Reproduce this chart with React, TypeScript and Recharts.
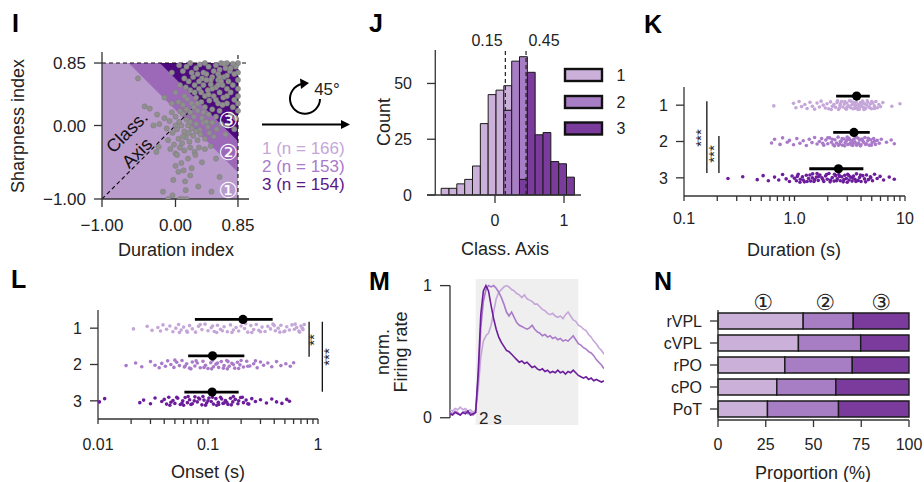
import React from 'react';
import {
  ComposedChart,
  ScatterChart,
  BarChart,
  Scatter,
  Line,
  Bar,
  Area,
  XAxis,
  YAxis,
  ReferenceLine,
  ReferenceArea,
} from 'recharts';

const FONT = '"Liberation Sans", Arial, Helvetica, sans-serif';
const INK = '#222';
const AXIS = { stroke: '#333', strokeWidth: 1.3 };
const TICK = { fontSize: 16, fill: INK };

// class colours (histogram / proportion bars)
const C1 = '#cbb0da';
const C2 = '#a77dc3';
const C3 = '#7b3b9d';
// strip plot colours
const S1 = '#c5a6d9';
const S2 = '#a97ac9';
const S3 = '#6c1d9c';
// background of the index plane
const BG1 = '#b99bcc';
const BG2 = '#9b69b8';
const BG3 = '#4d0a80';

// ---------- I : duration vs sharpness index ----------
const thresholds = [0.15, 0.45];
const indexTicks = [-1, 0, 0.85];
const indexMax = 0.85;
const iPoints = [
  [0.85, 0.85], [0.82, 0.8], [0.78, 0.84], [0.7, 0.85], [0.62, 0.85], [0.55, 0.82], [0.85, 0.72], [0.85, 0.62],
  [0.8, 0.7], [0.74, 0.74], [0.68, 0.78], [0.6, 0.76], [0.52, 0.74], [0.45, 0.8], [0.4, 0.85], [0.33, 0.83],
  [0.28, 0.78], [0.2, 0.85], [0.15, 0.8], [0.1, 0.74], [0.05, 0.82], [-0.05, 0.72], [0.85, 0.5], [0.78, 0.55],
  [0.72, 0.6], [0.66, 0.66], [0.58, 0.62], [0.5, 0.66], [0.42, 0.7], [0.36, 0.64], [0.3, 0.7], [0.24, 0.66],
  [0.18, 0.6], [0.12, 0.64], [0.85, 0.4], [0.8, 0.35], [0.75, 0.45], [0.7, 0.5], [0.64, 0.55], [0.6, 0.45],
  [0.55, 0.52], [0.48, 0.56], [0.44, 0.48], [0.38, 0.55], [0.32, 0.5], [0.26, 0.55], [0.2, 0.48], [0.14, 0.52],
  [0.06, 0.55], [0.0, 0.45], [0.85, 0.2], [0.82, 0.1], [0.78, 0.25], [0.7, 0.3], [0.65, 0.38], [0.58, 0.3],
  [0.52, 0.4], [0.46, 0.34], [0.4, 0.4], [0.35, 0.32], [0.28, 0.38], [0.22, 0.3], [0.16, 0.36], [0.1, 0.28],
  [0.04, 0.32], [-0.05, 0.3], [-0.15, 0.38], [0.6, 0.2], [0.55, 0.12], [0.5, 0.22], [0.45, 0.15], [0.4, 0.25],
  [0.36, 0.1], [0.3, 0.2], [0.25, 0.12], [0.2, 0.18], [0.15, 0.08], [0.1, 0.16], [0.05, 0.05], [0.0, 0.12],
  [-0.08, 0.06], [-0.15, 0.1], [-0.22, 0.02], [0.62, 0.02], [0.56, -0.05], [0.5, 0.04], [0.44, -0.02], [0.38, 0.04],
  [0.33, -0.06], [0.28, 0.02], [0.22, -0.04], [0.17, 0.0], [0.12, -0.08], [0.08, 0.0], [0.02, -0.05], [-0.04, -0.1],
  [-0.12, -0.04], [0.52, -0.15], [0.46, -0.1], [0.4, -0.18], [0.34, -0.12], [0.3, -0.2], [0.24, -0.14], [0.19, -0.22],
  [0.14, -0.16], [0.09, -0.24], [0.04, -0.18], [-0.02, -0.26], [-0.1, -0.2], [0.48, -0.28], [0.4, -0.32], [0.32, -0.3],
  [0.26, -0.36], [0.2, -0.3], [0.12, -0.34], [0.06, -0.3], [0.0, -0.38], [-0.07, -0.32], [-0.26, -0.36], [-0.23, -0.29],
  [0.08, -0.51], [0.02, -0.4], [0.17, -0.45], [0.27, -0.4], [0.04, -0.63], [0.11, -0.61], [0.22, -0.58], [-0.03, -0.74],
  [0.13, -0.76], [0.31, -0.83], [0.49, -0.9], [-0.04, -0.95], [-0.17, -0.9], [-0.1, -1.0], [0.06, -1.0], [0.1, -1.0],
  [0.15, -1.0], [0.36, -0.5], [0.55, -0.45], [0.6, -0.7], [0.2, -0.68], [0.0, -0.55], [0.14, -0.88], [-0.51, 0.64],
  [-0.42, 0.26], [-0.35, 0.23], [-0.3, 0.0], [-0.25, 0.15], [0.7, 0.0], [0.75, 0.15], [0.68, -0.12], [0.64, 0.28],
  [0.8, -0.05], [0.85, 0.3], [0.58, 0.7], [0.66, 0.84], [0.48, 0.62], [0.38, 0.72], [0.26, 0.45], [0.7, 0.68],
  [0.3, 0.3], [0.35, 0.45], [0.42, 0.05], [0.2, 0.05], [0.25, 0.25], [0.15, 0.22], [0.45, 0.42], [0.55, 0.35],
  [0.62, 0.6], [0.5, 0.5], [0.38, 0.18], [0.28, -0.08], [0.18, -0.1], [0.1, -0.15], [0.32, 0.6], [0.22, 0.72],
  [0.75, 0.78], [0.6, 0.66], [0.12, 0.4], [0.06, 0.2], [0.0, 0.0], [-0.05, 0.18], [0.42, 0.62], [0.58, 0.55],
  [0.7, 0.4],
];

// ---------- J : histogram along the classification axis ----------
const binEdges = [
  -0.78, -0.666, -0.553, -0.439, -0.326, -0.212, -0.099, 0.015, 0.128, 0.242,
  0.355, 0.469, 0.582, 0.696, 0.809, 0.923, 1.036, 1.15,
];
const countC1 = [3, 3, 5, 7, 13, 32, 45, 47, 11, 0, 0, 0, 0, 0, 0, 0, 0];
const countC2 = [0, 0, 0, 0, 0, 0, 0, 0, 38, 60, 55, 0, 0, 0, 0, 0, 0];
const countC3 = [0, 0, 0, 0, 0, 0, 0, 0, 0, 0, 7, 55, 27, 28, 15, 14, 8];
const countTicks = [0, 25, 50];
const axisTicks = [0, 1];

// ---------- K : duration strips ----------
const kTicks = [0.1, 0.2, 0.3, 0.4, 0.5, 0.6, 0.7, 0.8, 0.9, 1, 2, 3, 4, 5, 6, 7, 8, 9, 10];
const kMajor = [0.1, 1, 10];
const kDur1 = [
  [0.65, 0.02], [0.98, -0.05], [1.03, 0.07], [1.1, -0.1], [1.16, 0.04], [1.24, -0.02], [1.3, 0.09], [1.38, -0.08],
  [1.45, 0.03], [1.52, 0.11], [1.6, -0.06], [1.68, 0.05], [1.74, -0.11], [1.82, 0.0], [1.9, 0.08], [1.97, -0.04],
  [2.04, 0.1], [2.12, -0.09], [2.2, 0.03], [2.27, -0.02], [2.35, 0.06], [2.42, -0.07], [2.5, 0.12], [2.58, 0.01],
  [2.66, -0.1], [2.74, 0.05], [2.82, -0.03], [2.9, 0.09], [2.98, -0.06], [3.06, 0.02], [3.14, -0.12], [3.22, 0.07],
  [3.3, -0.01], [3.38, 0.1], [3.46, -0.05], [3.54, 0.04], [3.62, -0.09], [3.7, 0.08], [3.78, -0.02], [3.86, 0.11],
  [3.95, -0.07], [4.04, 0.03], [4.12, -0.11], [4.2, 0.06], [4.3, -0.04], [4.4, 0.09], [4.5, 0.0], [4.6, -0.08],
  [4.72, 0.05], [4.85, -0.03], [4.98, 0.1], [5.12, -0.06], [5.28, 0.02], [5.45, -0.1], [5.62, 0.07], [5.8, -0.02],
  [6.0, 0.04], [6.3, -0.07], [7.6, 0.03], [9.0, -0.04], [3.0, 0.05], [3.4, -0.08], [3.9, 0.02], [4.25, 0.12],
  [2.6, -0.04], [3.5, 0.09], [2.15, 0.12], [2.45, -0.12], [2.95, 0.11], [3.25, -0.11], [3.58, 0.0], [3.75, 0.12],
  [4.08, -0.05], [4.35, 0.1], [4.55, -0.12], [4.8, 0.07], [3.1, 0.03], [3.45, -0.03], [2.85, -0.1], [2.55, 0.08],
  [4.15, -0.09], [3.85, 0.05], [5.0, -0.1], [5.3, 0.09],
];
const kDur2 = [
  [0.62, 0.04], [0.66, -0.06], [0.74, 0.08], [0.78, -0.1], [0.86, 0.02], [0.9, -0.03], [0.98, 0.09], [1.05, -0.08],
  [1.12, 0.05], [1.2, -0.02], [1.28, 0.11], [1.36, -0.06], [1.44, 0.03], [1.52, -0.11], [1.6, 0.07], [1.68, 0.0],
  [1.76, -0.08], [1.84, 0.1], [1.92, -0.04], [2.0, 0.06], [2.08, -0.1], [2.16, 0.02], [2.24, 0.09], [2.32, -0.05],
  [2.4, 0.04], [2.48, -0.12], [2.56, 0.07], [2.64, -0.01], [2.72, 0.1], [2.8, -0.07], [2.88, 0.03], [2.96, -0.03],
  [3.04, 0.08], [3.12, -0.09], [3.2, 0.05], [3.28, -0.02], [3.36, 0.11], [3.44, -0.06], [3.52, 0.01], [3.6, 0.07],
  [3.7, -0.1], [3.8, 0.04], [3.9, -0.04], [4.0, 0.09], [4.1, -0.07], [4.22, 0.02], [4.34, -0.11], [4.46, 0.06],
  [4.6, -0.02], [4.75, 0.1], [4.9, -0.05], [5.05, 0.03], [5.2, -0.08], [5.4, 0.08], [5.6, -0.03], [5.85, 0.05],
  [6.1, -0.06], [6.8, 0.02], [7.5, -0.04], [8.0, 0.06], [2.3, 0.12], [3.0, -0.12], [3.65, 0.1], [2.7, -0.08],
  [2.2, -0.06], [2.5, 0.1], [2.85, 0.12], [3.15, -0.05], [3.4, 0.04], [3.55, -0.11], [3.75, 0.06], [3.95, 0.12],
  [4.15, -0.02], [4.4, 0.08], [4.65, -0.09], [2.6, 0.0], [3.25, 0.09], [3.85, -0.07], [2.0, -0.1], [1.8, 0.05],
  [4.95, 0.1], [5.3, -0.01],
];
const kDur3 = [
  [0.25, 0.02], [0.34, -0.03], [0.46, 0.05], [0.52, -0.06], [0.58, 0.08], [0.66, -0.02], [0.72, 0.06], [0.78, -0.09],
  [0.84, 0.03], [0.9, 0.1], [0.95, -0.05], [1.0, 0.01], [1.04, 0.08], [1.08, -0.1], [1.13, 0.04], [1.18, -0.03],
  [1.23, 0.11], [1.28, -0.07], [1.34, 0.02], [1.4, 0.09], [1.46, -0.11], [1.52, 0.05], [1.58, -0.02], [1.64, 0.07],
  [1.7, -0.08], [1.77, 0.0], [1.84, 0.1], [1.91, -0.05], [1.98, 0.04], [2.05, -0.12], [2.12, 0.06], [2.2, -0.01],
  [2.28, 0.09], [2.36, -0.06], [2.44, 0.03], [2.52, -0.09], [2.6, 0.08], [2.68, -0.03], [2.76, 0.11], [2.85, -0.07],
  [2.94, 0.02], [3.03, -0.1], [3.12, 0.06], [3.22, -0.02], [3.32, 0.09], [3.42, -0.05], [3.52, 0.04], [3.64, -0.11],
  [3.76, 0.07], [3.88, -0.01], [4.0, 0.1], [4.15, -0.06], [4.3, 0.03], [4.48, -0.08], [4.66, 0.05], [4.86, -0.03],
  [5.08, 0.08], [5.3, -0.1], [5.6, 0.02], [5.95, -0.04], [6.4, 0.06], [7.2, -0.02], [8.0, 0.04], [1.12, 0.12],
  [1.45, 0.0], [1.6, -0.12], [2.3, -0.1], [3.0, 0.12], [1.06, -0.04], [1.2, 0.06], [1.3, 0.1], [1.38, -0.08],
  [1.5, 0.1], [1.66, -0.04], [1.8, 0.04], [1.95, -0.09], [2.1, 0.11], [2.4, 0.08], [2.56, -0.04], [2.8, 0.05],
  [3.1, -0.06], [3.35, 0.0], [3.6, 0.1], [3.95, -0.08], [4.4, 0.11], [4.9, 0.0],
];
const kMean = [3.65, 3.45, 2.5];
const kLow = [2.38, 2.24, 1.36];
const kHigh = [4.8, 4.8, 4.2];

// ---------- L : onset strips ----------
const lTicks = [0.01, 0.02, 0.03, 0.04, 0.05, 0.06, 0.07, 0.08, 0.09, 0.1, 0.2, 0.3, 0.4, 0.5, 0.6, 0.7, 0.8, 0.9, 1];
const lMajor = [0.01, 0.1, 1];
const lOn1 = [
  [0.021, 0.02], [0.028, -0.05], [0.031, 0.06], [0.035, -0.02], [0.037, 0.08], [0.039, -0.09], [0.042, 0.03],
  [0.045, -0.06], [0.048, 0.1], [0.051, 0.0], [0.054, -0.1], [0.057, 0.05], [0.06, -0.03], [0.064, 0.08],
  [0.068, -0.07], [0.072, 0.02], [0.077, 0.11], [0.082, -0.05], [0.088, 0.04], [0.094, -0.11], [0.1, 0.07],
  [0.107, -0.01], [0.114, 0.09], [0.122, -0.08], [0.13, 0.03], [0.14, -0.04], [0.15, 0.1], [0.16, -0.09],
  [0.17, 0.05], [0.18, -0.02], [0.19, 0.08], [0.2, -0.06], [0.215, 0.01], [0.23, 0.11], [0.245, -0.07],
  [0.26, 0.04], [0.275, -0.1], [0.29, 0.06], [0.31, -0.03], [0.33, 0.09], [0.35, -0.05], [0.37, 0.02],
  [0.39, -0.11], [0.41, 0.07], [0.435, 0.0], [0.46, -0.08], [0.49, 0.1], [0.52, -0.04], [0.55, 0.05],
  [0.58, -0.09], [0.61, 0.03], [0.64, -0.02], [0.67, 0.08], [0.7, -0.06], [0.73, 0.04], [0.75, -0.1],
  [0.055, 0.12], [0.12, 0.12], [0.25, 0.12], [0.45, 0.11], [0.065, 0.11], [0.085, -0.1], [0.11, -0.06],
  [0.135, 0.07], [0.165, 0.12], [0.22, -0.12], [0.3, 0.1], [0.4, -0.07], [0.5, 0.08], [0.62, -0.11],
  [0.68, 0.11], [0.72, 0.0],
];
const lOn2 = [
  [0.018, 0.03], [0.022, -0.04], [0.025, 0.06], [0.03, -0.08], [0.033, 0.02], [0.036, 0.09], [0.038, -0.03],
  [0.041, 0.05], [0.043, -0.1], [0.046, 0.0], [0.049, 0.08], [0.052, -0.06], [0.055, 0.03], [0.058, -0.11],
  [0.061, 0.07], [0.064, -0.02], [0.068, 0.1], [0.072, -0.07], [0.076, 0.04], [0.08, -0.04], [0.085, 0.09],
  [0.09, -0.09], [0.095, 0.02], [0.1, 0.11], [0.106, -0.05], [0.112, 0.06], [0.118, -0.01], [0.125, 0.08],
  [0.132, -0.08], [0.14, 0.03], [0.148, -0.11], [0.156, 0.05], [0.165, -0.03], [0.175, 0.1], [0.185, -0.06],
  [0.195, 0.01], [0.21, 0.07], [0.225, -0.09], [0.24, 0.04], [0.26, -0.02], [0.28, 0.09], [0.3, -0.07],
  [0.32, 0.02], [0.35, -0.04], [0.38, 0.06], [0.42, -0.08], [0.46, 0.03], [0.51, -0.02], [0.56, 0.05],
  [0.6, -0.05], [0.07, 0.12], [0.11, -0.12], [0.15, 0.12], [0.2, -0.11], [0.05, -0.12], [0.062, 0.04],
  [0.078, -0.1], [0.092, 0.08], [0.108, 0.12], [0.122, -0.04], [0.138, 0.1], [0.152, -0.08], [0.17, 0.0],
  [0.19, 0.11], [0.23, 0.05], [0.27, -0.1],
];
const lOn3 = [
  [0.0103, 0.03], [0.0115, -0.06], [0.024, 0.05], [0.026, -0.02], [0.03, 0.08], [0.033, -0.08], [0.038, 0.02],
  [0.04, -0.04], [0.042, 0.09], [0.044, -0.1], [0.046, 0.04], [0.048, -0.01], [0.05, 0.07], [0.053, -0.07],
  [0.056, 0.1], [0.059, 0.0], [0.062, -0.09], [0.065, 0.05], [0.068, -0.03], [0.072, 0.08], [0.076, -0.11],
  [0.08, 0.03], [0.084, -0.05], [0.088, 0.11], [0.092, -0.02], [0.097, 0.06], [0.102, -0.08], [0.107, 0.02],
  [0.112, 0.09], [0.118, -0.06], [0.124, 0.04], [0.13, -0.1], [0.137, 0.07], [0.144, -0.01], [0.152, 0.1],
  [0.16, -0.07], [0.168, 0.03], [0.177, -0.04], [0.187, 0.08], [0.198, -0.09], [0.21, 0.05], [0.222, -0.02],
  [0.235, 0.09], [0.25, -0.06], [0.27, 0.02], [0.3, -0.03], [0.34, 0.06], [0.38, -0.05], [0.42, 0.03],
  [0.47, 0.07], [0.52, -0.04], [0.55, 0.01], [0.06, 0.12], [0.09, -0.12], [0.12, 0.12], [0.17, -0.12],
  [0.075, 0.0], [0.14, 0.06], [0.045, 0.12], [0.052, -0.1], [0.058, 0.06], [0.066, -0.12], [0.07, 0.1],
  [0.082, -0.08], [0.095, 0.12], [0.1, 0.0], [0.11, -0.1], [0.125, 0.1], [0.133, -0.05], [0.148, 0.04],
  [0.163, 0.11], [0.19, 0.0], [0.205, -0.1], [0.23, 0.08],
];
const lMean = [0.208, 0.11, 0.109];
const lLow = [0.076, 0.066, 0.061];
const lHigh = [0.387, 0.214, 0.19];

// ---------- M : normalised firing rate ----------
const mTime = [
  -0.5, -0.45, -0.4, -0.35, -0.3, -0.25, -0.2, -0.15, -0.1, -0.05, 0,
  0.05, 0.1, 0.15, 0.2, 0.25, 0.3, 0.35, 0.4, 0.45, 0.5,
  0.55, 0.6, 0.65, 0.7, 0.75, 0.8, 0.85, 0.9, 0.95, 1.0,
  1.05, 1.1, 1.15, 1.2, 1.25, 1.3, 1.35, 1.4, 1.45, 1.5,
  1.55, 1.6, 1.65, 1.7, 1.75, 1.8, 1.85, 1.9, 1.95, 2.0,
  2.05, 2.1, 2.15, 2.2, 2.25, 2.3, 2.35, 2.4, 2.45, 2.5,
];
const mRate1 = [
  0.06, 0.05, 0.07, 0.06, 0.08, 0.06, 0.07, 0.05, 0.06, 0.04, 0.06,
  0.22, 0.46, 0.58, 0.62, 0.64, 0.7, 0.8, 0.9, 0.95, 0.97,
  0.99, 1.0, 0.99, 0.97, 0.96, 0.94, 0.93, 0.91, 0.93, 0.9,
  0.89, 0.88, 0.86, 0.86, 0.84, 0.82, 0.81, 0.79, 0.78, 0.79,
  0.77, 0.76, 0.77, 0.75, 0.78, 0.8, 0.77, 0.74, 0.73, 0.7,
  0.69, 0.67, 0.66, 0.63, 0.61, 0.58, 0.56, 0.53, 0.51, 0.48,
];
const mRate2 = [
  0.04, 0.03, 0.05, 0.04, 0.02, 0.04, 0.05, 0.03, 0.04, 0.02, 0.04,
  0.3, 0.68, 0.88, 0.97, 1.0, 0.99, 1.0, 0.98, 0.95, 0.91,
  0.86, 0.8, 0.77, 0.8, 0.76, 0.72, 0.7, 0.69, 0.68, 0.67,
  0.68, 0.7, 0.67, 0.65, 0.64, 0.62, 0.63, 0.61, 0.62, 0.6,
  0.61, 0.59, 0.6, 0.58, 0.59, 0.58, 0.6, 0.62, 0.59, 0.56,
  0.55, 0.53, 0.52, 0.5, 0.49, 0.47, 0.44, 0.42, 0.4, 0.37,
];
const mRate3 = [
  0.03, 0.02, 0.04, 0.03, 0.02, 0.04, 0.03, 0.05, 0.02, 0.03, 0.04,
  0.35, 0.78, 0.96, 1.0, 0.96, 0.85, 0.75, 0.67, 0.61, 0.57,
  0.54, 0.51, 0.5, 0.48, 0.46, 0.44, 0.42, 0.43, 0.41, 0.42,
  0.4, 0.38, 0.39, 0.37, 0.36, 0.37, 0.35, 0.36, 0.34, 0.35,
  0.34, 0.36, 0.34, 0.35, 0.33, 0.35, 0.34, 0.36, 0.34, 0.32,
  0.31, 0.3, 0.31, 0.29, 0.3, 0.28, 0.29, 0.28, 0.27, 0.28,
];
const stimWindow = [0, 2];

// ---------- N : proportions per region ----------
const regions = ['rVPL', 'cVPL', 'rPO', 'cPO', 'PoT'];
const prop1 = [44.6, 42.1, 35.0, 30.8, 25.9];
const prop2 = [26.2, 32.6, 35.3, 30.9, 37.2];
const prop3 = [29.2, 25.3, 29.7, 38.3, 36.9];
const propTicks = [0, 25, 50, 75, 100];

const fmtIdx = (v: number) => (v < 0 ? '\u2212' : '') + Math.abs(v).toFixed(2);
const dot = (r: number, fill: string, stroke?: string) => (p: any) => (
  <circle cx={p.cx} cy={p.cy} r={r} fill={fill} stroke={stroke || 'none'} strokeWidth={0.5} />
);

function Box({ left, top, children }: { left: number; top: number; children: React.ReactNode }) {
  return <div style={{ position: 'absolute', left, top }}>{children}</div>;
}

function PanelI() {
  const t1 = thresholds[0] * Math.SQRT2;
  const t2 = thresholds[1] * Math.SQRT2;
  const square = [
    { x: -1, band: [-1, indexMax] },
    { x: indexMax, band: [-1, indexMax] },
  ];
  const mid = [
    { x: t1 - indexMax, band: [indexMax, indexMax] },
    { x: indexMax, band: [t1 - indexMax, indexMax] },
  ];
  const dark = [
    { x: t2 - indexMax, band: [indexMax, indexMax] },
    { x: indexMax, band: [t2 - indexMax, indexMax] },
  ];
  const pts = iPoints.map(([x, y]) => ({ x, y }));
  return (
    <ComposedChart width={270} height={245} margin={{ top: 52, right: 21, bottom: 16, left: 42 }}>
      <XAxis type="number" dataKey="x" domain={[-1, 1]} allowDataOverflow ticks={indexTicks} interval={0}
        tickFormatter={fmtIdx} height={30} tickSize={8} tickMargin={12} tick={{ ...TICK, fontSize: 17 }}
        axisLine={AXIS} tickLine={AXIS} />
      <YAxis type="number" dataKey="y" domain={[-1, 1]} allowDataOverflow ticks={indexTicks} interval={0}
        tickFormatter={fmtIdx} width={60} tickSize={8} tickMargin={8} tick={{ ...TICK, fontSize: 17 }}
        axisLine={AXIS} tickLine={AXIS} />
      <Area data={square} dataKey="band" type="linear" fill={BG1} fillOpacity={1} stroke="none" isAnimationActive={false} />
      <Area data={mid} dataKey="band" type="linear" fill={BG2} fillOpacity={1} stroke="none" isAnimationActive={false} />
      <Area data={dark} dataKey="band" type="linear" fill={BG3} fillOpacity={1} stroke="none" isAnimationActive={false} />
      <Scatter data={pts} dataKey="y" shape={dot(2.6, '#8f8f8f', '#7c7c7c')} isAnimationActive={false} />
      <ReferenceLine segment={[{ x: -1, y: -1 }, { x: indexMax, y: indexMax }]} stroke="#111" strokeWidth={1.2} strokeDasharray="4 3" />
      <ReferenceLine y={indexMax} stroke="#111" strokeWidth={1.1} strokeDasharray="4 3" />
      <ReferenceLine x={indexMax} stroke="#111" strokeWidth={1.1} strokeDasharray="4 3" />
    </ComposedChart>
  );
}

function PanelJ() {
  const spine = -0.865;
  const rects = binEdges.slice(0, -1).flatMap((x1, i) => {
    let base = 0;
    const layers: [number[], string][] = [[countC3, C3], [countC2, C2], [countC1, C1]];
    return layers.flatMap(([arr, fill]) => {
      const n = arr[i];
      if (!n) return [];
      const r = { x1, x2: binEdges[i + 1], y1: base, y2: base + n, fill, key: `${i}-${fill}` };
      base += n;
      return [r];
    });
  });
  return (
    <ComposedChart width={260} height={250} margin={{ top: 50, right: 19, bottom: 25, left: 47 }}>
      <XAxis type="number" dataKey="x" domain={[-0.985, 1.246]} allowDataOverflow ticks={axisTicks} interval={0}
        height={30} tickSize={8} tickMargin={12} tick={TICK} axisLine={AXIS} tickLine={AXIS} />
      <YAxis type="number" domain={[0, 65]} allowDataOverflow ticks={countTicks} interval={0} width={40}
        tickSize={0} tickMargin={15} tick={TICK} axisLine={false} tickLine={false} />
      {rects.map((r) => (
        <ReferenceArea key={r.key} x1={r.x1} x2={r.x2} y1={r.y1} y2={r.y2} fill={r.fill} fillOpacity={1}
          stroke="#1a1a1a" strokeWidth={1} ifOverflow="visible" />
      ))}
      <ReferenceLine segment={[{ x: spine, y: 0 }, { x: spine, y: 65 }]} {...AXIS} ifOverflow="visible" />
      {countTicks.map((t) => (
        <ReferenceLine key={t} segment={[{ x: -0.985, y: t }, { x: spine, y: t }]} {...AXIS} ifOverflow="visible" />
      ))}
      {thresholds.map((t) => (
        <ReferenceLine key={t} x={t} stroke="#222" strokeWidth={1.2} strokeDasharray="4 3" />
      ))}
    </ComposedChart>
  );
}

type StripProps = {
  groups: number[][][];
  colors: string[];
  domain: [number, number];
  ticks: number[];
  major: number[];
  fmt: (v: number) => string;
  mean: number[];
  low: number[];
  high: number[];
  width: number;
  height: number;
  margin: { top: number; right: number; bottom: number; left: number };
  brackets: { x: number; y1: number; y2: number }[];
  meanOffset: number;
  tickMargin: number;
};

function Strip(p: StripProps) {
  const means = p.mean.map((m, i) => ({ x: m, y: i + 1 - p.meanOffset }));
  return (
    <ScatterChart width={p.width} height={p.height} margin={p.margin}>
      <XAxis type="number" dataKey="x" scale="log" domain={p.domain} allowDataOverflow ticks={p.ticks} interval={0}
        tickFormatter={(v: number) => (p.major.includes(v) ? p.fmt(v) : '')} height={30} tickSize={5}
        tickMargin={p.tickMargin} tick={TICK} axisLine={AXIS} tickLine={AXIS} />
      <YAxis type="number" dataKey="y" domain={[0.5, 3.5]} reversed allowDataOverflow ticks={[1, 2, 3]} interval={0}
        width={40} tickSize={8} tickMargin={8} tick={TICK} axisLine={AXIS} tickLine={AXIS} />
      {p.groups.map((g, gi) => (
        <Scatter key={gi} data={g.map(([v, j]) => ({ x: v, y: gi + 1 + j }))} shape={dot(1.8, p.colors[gi])}
          isAnimationActive={false} />
      ))}
      {p.mean.map((_, i) => (
        <ReferenceLine key={`e${i}`} segment={[{ x: p.low[i], y: i + 1 - p.meanOffset }, { x: p.high[i], y: i + 1 - p.meanOffset }]}
          stroke="#000" strokeWidth={2.8} />
      ))}
      <Scatter data={means} shape={dot(4.6, '#000')} isAnimationActive={false} />
      {p.brackets.map((b, i) => (
        <ReferenceLine key={`b${i}`} segment={[{ x: b.x, y: b.y1 }, { x: b.x, y: b.y2 }]} stroke="#111"
          strokeWidth={1.3} ifOverflow="visible" />
      ))}
    </ScatterChart>
  );
}

function PanelM() {
  const data = mTime.map((t, i) => ({ t, a: mRate1[i], b: mRate2[i], c: mRate3[i] }));
  const shade = stimWindow.map((t) => ({ t, s: [-0.055, 1.05] }));
  return (
    <ComposedChart width={270} height={232} data={data} margin={{ top: 29, right: 6, bottom: 57, left: 70 }}>
      <XAxis type="number" dataKey="t" domain={[-0.5, 2.5]} allowDataOverflow hide />
      <YAxis type="number" domain={[-0.055, 1.05]} allowDataOverflow ticks={[0, 1]} interval={0} width={40}
        tickSize={10} tickMargin={8} tick={TICK} axisLine={false} tickLine={AXIS} />
      <Area data={shade} dataKey="s" type="linear" fill="#efefef" fillOpacity={1} stroke="none" isAnimationActive={false} />
      <ReferenceLine segment={[{ x: -0.5, y: 0 }, { x: -0.5, y: 1 }]} {...AXIS} ifOverflow="visible" />
      <Line dataKey="a" stroke={S1} strokeWidth={1.6} dot={false} isAnimationActive={false} />
      <Line dataKey="b" stroke={S2} strokeWidth={1.6} dot={false} isAnimationActive={false} />
      <Line dataKey="c" stroke={S3} strokeWidth={1.6} dot={false} isAnimationActive={false} />
    </ComposedChart>
  );
}

function PanelN() {
  const data = regions.map((region, i) => ({ region, c1: prop1[i], c2: prop2[i], c3: prop3[i] }));
  const seg = { stroke: '#1a1a1a', strokeWidth: 1.4, isAnimationActive: false, barSize: 16 };
  return (
    <BarChart width={324} height={232} data={data} layout="vertical" margin={{ top: 60, right: 15, bottom: 32, left: 58 }}>
      <XAxis type="number" domain={[0, 100]} ticks={propTicks} interval={0} height={30} tickSize={7} tickMargin={12}
        tick={TICK} axisLine={AXIS} tickLine={AXIS} />
      <YAxis type="category" dataKey="region" width={60} interval={0} tickSize={8} tickMargin={8} tick={TICK}
        axisLine={AXIS} tickLine={AXIS} />
      <Bar dataKey="c1" stackId="s" fill={C1} {...seg} />
      <Bar dataKey="c2" stackId="s" fill={C2} {...seg} />
      <Bar dataKey="c3" stackId="s" fill={C3} {...seg} />
    </BarChart>
  );
}

function T({ x, y, size = 18, anchor = 'middle', rotate = 0, fill = INK, weight, base = 'central', family, children }: any) {
  return (
    <text x={x} y={y} fontSize={size} textAnchor={anchor} dominantBaseline={base} fill={fill} fontWeight={weight}
      fontFamily={family} transform={rotate ? `rotate(${rotate} ${x} ${y})` : undefined}>
      {children}
    </text>
  );
}

function Overlay() {
  const circ = '"DejaVu Sans", "Noto Sans CJK JP", sans-serif';
  const letter = { size: 25, weight: 700, anchor: 'start', base: 'alphabetic', fill: '#000' };
  return (
    <svg width={924} height={482} style={{ position: 'absolute', left: 0, top: 0, pointerEvents: 'none' }}>
      <T x={12} y={32} {...letter}>I</T>
      <T x={369} y={32} {...letter}>J</T>
      <T x={644} y={33} {...letter}>K</T>
      <T x={11} y={288} {...letter}>L</T>
      <T x={369} y={290} {...letter}>M</T>
      <T x={654} y={290} {...letter}>N</T>

      {/* I */}
      <T x={18} y={126} rotate={-90}>Sharpness index</T>
      <T x={176} y={250}>Duration index</T>
      <T x={127} y={132} rotate={-45} fill="#111">Class.</T>
      <T x={137} y={153} rotate={-45} fill="#111">Axis</T>
      <T x={228} y={120} size={22} fill="#fff" family={circ}>③</T>
      <T x={228} y={152} size={22} fill="#fff" family={circ}>②</T>
      <T x={228} y={190} size={22} fill="#fff" family={circ}>①</T>

      {/* rotation + legend */}
      <path d="M 320 99 A 15 15 0 1 1 302 84" fill="none" stroke="#000" strokeWidth={2} />
      <polygon points="309,83 300,78.5 301,89" fill="#000" />
      <T x={327} y={89} size={17}>45°</T>
      <line x1={262} y1={124.5} x2={343} y2={124.5} stroke="#000" strokeWidth={2} />
      <polygon points="350,124.5 341,120 341,129" fill="#000" />
      <T x={262} y={148} size={17} anchor="start" fill={S1}>1 (n = 166)</T>
      <T x={262} y={166} size={17} anchor="start" fill={S2}>2 (n = 153)</T>
      <T x={262} y={184.5} size={17} anchor="start" fill="#5a1689">3 (n = 154)</T>

      {/* J */}
      <T x={384} y={122} rotate={-90}>Count</T>
      <T x={505} y={249}>Class. Axis</T>
      <T x={487} y={40} size={16}>0.15</T>
      <T x={544} y={40} size={16}>0.45</T>
      <rect x={565} y={69} width={37} height={12} fill={C1} stroke="#111" strokeWidth={2.4} />
      <rect x={565} y={96} width={37} height={12} fill={C2} stroke="#111" strokeWidth={2.4} />
      <rect x={565} y={122.5} width={37} height={12} fill={C3} stroke="#111" strokeWidth={2.4} />
      <T x={621} y={75} size={16}>1</T>
      <T x={621} y={102} size={16}>2</T>
      <T x={621} y={128} size={16}>3</T>

      {/* K */}
      <T x={794} y={250}>Duration (s)</T>
      <T x={700.5} y={138} size={15} rotate={-90}>***</T>
      <T x={713.5} y={154} size={15} rotate={-90}>***</T>

      {/* L */}
      <T x={208} y={472}>Onset (s)</T>
      <T x={313.5} y={340} size={15} rotate={-90}>**</T>
      <T x={328.5} y={357} size={15} rotate={-90}>***</T>

      {/* M */}
      <T x={383} y={352} rotate={-90}>norm.</T>
      <T x={401} y={352} rotate={-90}>Firing rate</T>
      <T x={479} y={418} size={17} anchor="start">2 s</T>

      {/* N */}
      <T x={763} y={302} size={22} family={circ}>①</T>
      <T x={825} y={302} size={22} family={circ}>②</T>
      <T x={881} y={302} size={22} family={circ}>③</T>
      <T x={813} y={473}>Proportion (%)</T>
    </svg>
  );
}

export default function App() {
  return (
    <div style={{ position: 'absolute', left: 0, top: 0, width: 924, height: 482, background: '#fff', fontFamily: FONT, overflow: 'hidden' }}>
      <Box left={0} top={0}><PanelI /></Box>
      <Box left={340} top={0}><PanelJ /></Box>
      <Box left={610} top={0}>
        <Strip groups={[kDur1, kDur2, kDur3]} colors={[S1, S2, S3]} domain={[0.1, 10]} ticks={kTicks} major={kMajor}
          fmt={(v) => (v === 1 ? '1.0' : String(v))} mean={kMean} low={kLow} high={kHigh} width={314} height={250}
          margin={{ top: 87, right: 19, bottom: 24, left: 34 }} meanOffset={0.25} tickMargin={12}
          brackets={[{ x: 0.161, y1: 0.89, y2: 2.87 }, { x: 0.207, y1: 1.85, y2: 2.87 }]} />
      </Box>
      <Box left={0} top={250}>
        <Strip groups={[lOn1, lOn2, lOn3]} colors={[S1, S2, S3]} domain={[0.01, 1]} ticks={lTicks} major={lMajor}
          fmt={(v) => String(v)} mean={lMean} low={lLow} high={lHigh} width={340} height={232}
          margin={{ top: 60, right: 22, bottom: 33, left: 58 }} meanOffset={0.24} tickMargin={15}
          brackets={[{ x: 0.83, y1: 0.82, y2: 1.79 }, { x: 1.095, y1: 0.82, y2: 2.75 }]} />
      </Box>
      <Box left={340} top={250}><PanelM /></Box>
      <Box left={600} top={250}><PanelN /></Box>
      <Overlay />
    </div>
  );
}
